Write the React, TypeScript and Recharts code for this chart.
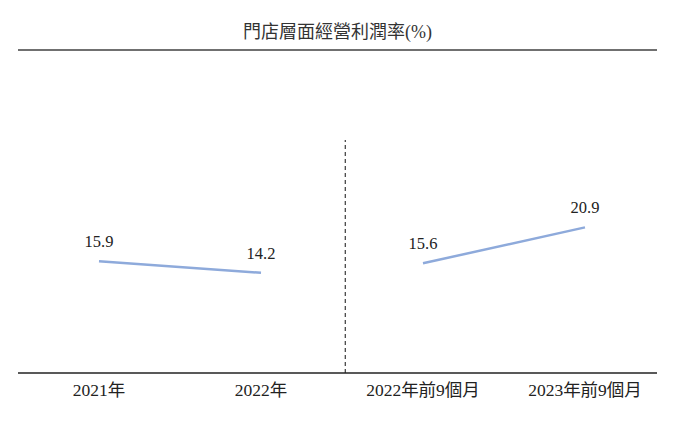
import { LineChart, Line, XAxis, YAxis, ReferenceLine, LabelList } from 'recharts'

const categories = ['2021年', '2022年', '2022年前9個月', '2023年前9個月']
// full-year segment and 9-month segment are drawn as separate lines
const fullYear = [15.9, 14.2, null, null]
const nineMonths = [null, null, 15.6, 20.9]
const faintTicks = [0, 10, 20]

const data = categories.map((name, i) => ({
  name,
  idx: i,
  fullYear: fullYear[i],
  nineMonths: nineMonths[i],
}))

const font = "'Liberation Serif', 'Times New Roman', 'Noto Sans CJK TC', serif"
const lineColor = '#8eaadb'

function FaintTick(props: any) {
  const { y } = props
  return <rect x={13} y={y - 1} width={2} height={2} fill="#d6e0f2" />
}

export default function App() {
  return (
    <div style={{ position: 'absolute', left: 0, top: 0, width: 684, height: 435, background: '#fff', fontFamily: font }}>
      <style>{`.recharts-wrapper text { font-family: ${font}; }`}</style>
      <div
        style={{
          position: 'absolute',
          left: 18,
          width: 639,
          top: 21,
          textAlign: 'center',
          fontSize: 18,
          lineHeight: '22px',
          color: '#333',
        }}
      >
        門店層面經營利潤率(%)
      </div>
      <div style={{ position: 'absolute', left: 18, top: 49, width: 639, height: 2, background: '#707070' }} />
      <LineChart
        width={684}
        height={435}
        data={data}
        margin={{ top: 140, right: 27, bottom: 32, left: 18 }}
        style={{ position: 'absolute', left: 0, top: 0 }}
      >
        <XAxis
          dataKey="name"
          height={30}
          padding={{ left: 81, right: 72 }}
          axisLine={{ stroke: '#222', strokeWidth: 1.5 }}
          tickLine={false}
          tickMargin={5}
          tick={{ fontSize: 17.5, fill: '#222', fontFamily: font }}
          interval={0}
        />
        <XAxis xAxisId="idx" dataKey="idx" type="number" domain={[0, 3]} padding={{ left: 81, right: 72 }} hide />
        <YAxis domain={[-0.6, 33.8]} hide />
        <YAxis
          yAxisId="faint"
          domain={[0.4, 34.2]}
          ticks={faintTicks}
          allowDataOverflow
          width={0}
          axisLine={false}
          tickLine={false}
          tickSize={0}
          tick={<FaintTick />}
        />
        <ReferenceLine xAxisId="idx" x={1.52} stroke="#111" strokeDasharray="4 3" strokeWidth={1} />
        <Line
          dataKey="fullYear"
          stroke={lineColor}
          strokeWidth={2.5}
          dot={false}
          activeDot={false}
          connectNulls={false}
          isAnimationActive={false}
        >
          <LabelList dataKey="fullYear" position="top" offset={14} fill="#222" fontSize={16.5} fontFamily={font} />
        </Line>
        <Line
          dataKey="nineMonths"
          stroke={lineColor}
          strokeWidth={2.5}
          dot={false}
          activeDot={false}
          connectNulls={false}
          isAnimationActive={false}
        >
          <LabelList dataKey="nineMonths" position="top" offset={14} fill="#222" fontSize={16.5} fontFamily={font} />
        </Line>
      </LineChart>
    </div>
  )
}
